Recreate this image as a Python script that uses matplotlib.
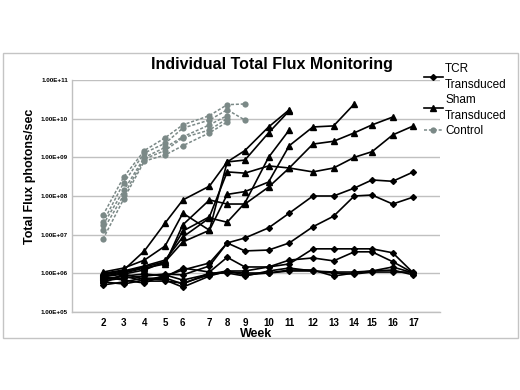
import matplotlib
matplotlib.use("Agg")
import matplotlib.pyplot as plt
from matplotlib.patches import Rectangle

plt.rcParams['font.family'] = ['Liberation Sans', 'DejaVu Sans']

# Imaging day for each week (x positions are uneven in the source)
days = [14, 21, 28, 35, 41, 50, 56, 62, 70, 77, 85, 92, 99, 105, 112, 119]
week_labels = ['2', '3', '4', '5', '6', '7', '8', '9', '10', '11', '12', '13', '14', '15', '16', '17']

# TCR transduced (diamonds), weeks 2-17
tcr1 = [7.1e5, 8.5e5, 9.6e5, 8.5e5, 1.22e6, 1.85e6, 6.1e6, 8.2e6, 1.5e7, 3.6e7, 1.0e8, 1.0e8, 1.6e8, 2.6e8, 2.4e8, 4.2e8]
tcr2 = [6.3e5, 7.6e5, 8.5e5, 9.6e5, 9.1e5, 1.55e6, 6.1e6, 3.8e6, 4.0e6, 6.1e6, 1.6e7, 3.0e7, 1.0e8, 1.06e8, 6.2e7, 9.4e7]
tcr3 = [5.6e5, 9.6e5, 7.1e5, 8.1e5, 1.37e6, 1.08e6, 2.6e6, 1.46e6, 1.46e6, 2.2e6, 2.5e6, 2.1e6, 3.6e6, 3.6e6, 2.0e6, 1.02e6]
tcr4 = [8.1e5, 6.7e5, 5.6e5, 9.1e5, 6.7e5, 9.6e5, 1.15e6, 1.15e6, 1.46e6, 1.75e6, 4.3e6, 4.3e6, 4.3e6, 4.3e6, 3.4e6, 1.02e6]
tcr5 = [5.0e5, 6.0e5, 7.6e5, 6.7e5, 4.4e5, 8.5e5, 1.15e6, 9.1e5, 1.02e6, 1.22e6, 1.22e6, 8.5e5, 1.02e6, 1.15e6, 1.46e6, 1.02e6]
tcr6 = [6.7e5, 8.5e5, 6.3e5, 6.3e5, 5.6e5, 9.1e5, 1.08e6, 1.02e6, 1.02e6, 1.15e6, 1.15e6, 1.08e6, 1.08e6, 1.15e6, 1.22e6, 9.1e5]
tcr7 = [6.0e5, 5.3e5, 6.7e5, 7.6e5, 5.3e5, 1.02e6, 1.02e6, 8.5e5, 1.15e6, 1.37e6, 1.15e6, 1.02e6, 9.6e5, 1.08e6, 1.08e6, 1.08e6]
tcr_series = [tcr1, tcr2, tcr3, tcr4, tcr5, tcr6, tcr7]

# Sham transduced (triangles), from week 2 until last imaging
sham1 = [1.0e6, 1.22e6, 3.8e6, 2.0e7, 7.9e7, 1.8e8, 7.6e8, 1.5e9, 6.1e9, 1.7e10]
sham2 = [1.08e6, 1.37e6, 2.2e6, 5.1e6, 3.6e7, 1.3e7, 7.6e8, 8.5e8, 4.3e9, 1.6e10]
sham3 = [9.6e5, 1.15e6, 1.55e6, 2.2e6, 8.7e6, 2.7e7, 2.1e7, 6.6e7, 1.0e9, 5.1e9]
sham4 = [9.1e5, 1.08e6, 1.46e6, 2.0e6, 6.5e6, 1.3e7, 1.1e8, 1.3e8, 2.3e8, 2.0e9, 6.1e9, 6.5e9, 2.4e10]
sham5 = [8.5e5, 1.02e6, 1.37e6, 1.75e6, 1.8e7, 7.9e7, 6.2e7, 6.2e7, 1.7e8, 5.3e8, 2.2e9, 2.6e9, 4.3e9, 6.9e9, 1.1e10]
sham6 = [8.1e5, 9.6e5, 1.22e6, 2.0e6, 1.24e7, 2.9e7, 4.2e8, 3.9e8, 6.0e8, 5.3e8, 4.2e8, 5.3e8, 1.0e9, 1.4e9, 3.8e9, 6.5e9]
sham_series = [sham1, sham2, sham3, sham4, sham5, sham6]

# Control (grey circles, dashed)
ctrl1 = [3.2e7, 3.1e8, 1.5e9, 3.2e9, 6.9e9, 1.2e10, 2.3e10, 2.4e10]
ctrl2 = [2.1e7, 2.2e8, 1.3e9, 2.3e9, 5.7e9, 9.2e9, 1.7e10, 9.2e9]
ctrl3 = [1.8e7, 1.4e8, 1.0e9, 1.8e9, 3.4e9, 6.9e9, 1.2e10]
ctrl4 = [1.3e7, 1.06e8, 9.1e8, 1.5e9, 3.2e9, 5.1e9, 1.0e10]
ctrl5 = [7.7e6, 8.4e7, 8.0e8, 1.15e9, 2.0e9, 4.3e9, 8.2e9]
ctrl_series = [ctrl1, ctrl2, ctrl3, ctrl4, ctrl5]

ytick_vals = [1e5, 1e6, 1e7, 1e8, 1e9, 1e10, 1e11]
ytick_labels = ['1.00E+05', '1.00E+06', '1.00E+07', '1.00E+08', '1.00E+09', '1.00E+10', '1.00E+11']

GREY = '#7b8987'

fig = plt.figure(figsize=(5.2, 3.9), dpi=100)
fig.patch.set_facecolor('white')
fig.patches.append(Rectangle((3 / 520, 1 - 338 / 390), 515 / 520, 285 / 390,
                             transform=fig.transFigure, fill=False,
                             edgecolor='#c4c4c4', linewidth=1.0))

ax = fig.add_axes([72 / 520, 1 - 312 / 390, 368 / 520, 232 / 390])
ax.set_yscale('log')

for i, s in enumerate(ctrl_series):
    ax.plot(days[:len(s)], s, color=GREY, linestyle=(0, (2, 1.2)), linewidth=1.1,
            marker='o', markersize=4.5, markeredgewidth=0, zorder=3,
            label='Control' if i == 0 else None)
for i, s in enumerate(sham_series):
    ax.plot(days[:len(s)], s, color='black', linewidth=1.2, marker='^',
            markersize=4.2, zorder=4, label='Sham\nTransduced' if i == 0 else None)
for i, s in enumerate(tcr_series):
    ax.plot(days[:len(s)], s, color='black', linewidth=1.2, marker='D',
            markersize=3.0, zorder=5, label='TCR\nTransduced' if i == 0 else None)

ax.set_xlim(3.5, 128)
ax.set_ylim(1e5, 1e11)
ax.set_yticks(ytick_vals)
ax.set_yticklabels(ytick_labels, fontsize=4.5, fontweight='bold')
ax.yaxis.set_minor_locator(matplotlib.ticker.NullLocator())
ax.set_xticks(days)
ax.set_xticklabels(week_labels, fontsize=7, fontweight='bold')
ax.tick_params(axis='both', length=0)
ax.tick_params(axis='x', pad=4)
ax.tick_params(axis='y', pad=3)
ax.grid(axis='y', color='#c0c0c0', linewidth=1.0)
ax.set_axisbelow(True)
for side in ['top', 'right']:
    ax.spines[side].set_visible(False)
for side in ['left', 'bottom']:
    ax.spines[side].set_color('#c0c0c0')
    ax.spines[side].set_linewidth(1.0)

ax.set_xlabel('Week', fontsize=9, fontweight='bold', labelpad=0)
fig.text(30 / 520, 1 - 176 / 390, 'Total Flux photons/sec', rotation=90,
         ha='center', va='center', fontsize=9, fontweight='bold')
fig.text(272 / 520, 1 - 65 / 390, 'Individual Total Flux Monitoring',
         ha='center', va='center', fontsize=11.5, fontweight='bold')

handles, labels = ax.get_legend_handles_labels()
order = [labels.index('TCR\nTransduced'), labels.index('Sham\nTransduced'), labels.index('Control')]
leg = ax.legend([handles[i] for i in order], [labels[i] for i in order],
                loc='upper left', bbox_to_anchor=(424 / 520, 1 - 63 / 390),
                bbox_transform=fig.transFigure, frameon=False, fontsize=8.5,
                handlelength=1.6, handletextpad=0.2, labelspacing=0.3,
                borderpad=0, borderaxespad=0)
for t in leg.get_texts():
    t.set_linespacing(1.4)

fig.savefig('out.png', dpi=100)
